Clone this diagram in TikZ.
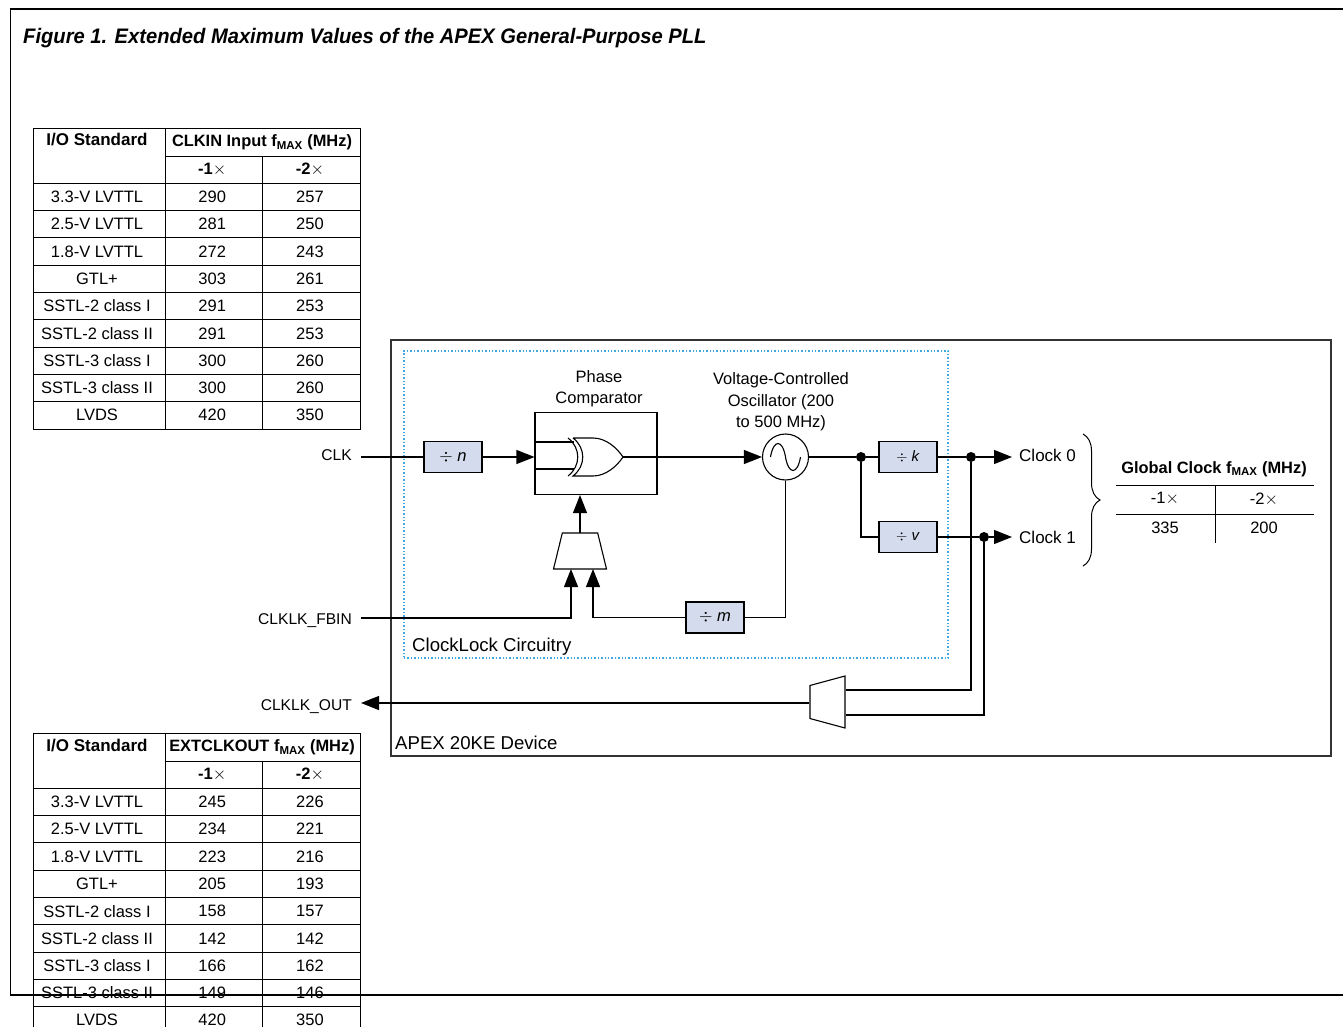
\documentclass[tikz,border=0pt]{standalone}
\usepackage{fontspec}
\setmainfont{Liberation Sans}
\newfontfamily\titlefont[FakeStretch=0.96]{Liberation Sans}
\usepackage{tikz}
\usetikzlibrary{arrows.meta,positioning,calc,decorations.pathreplacing,shapes.geometric}

\definecolor{divfill}{RGB}{211,219,236}
\definecolor{dotblue}{RGB}{60,170,225}

% one fmax table: name prefix, top edge, heading, rows
\newcommand{\fmaxtable}[4]{
    \node[cell, minimum width=132pt, minimum height=55pt] (#1std) at (99.5,#2+27.5) {};
    \node[tabhead, anchor=base, font=\fontsize{17}{20}\selectfont\bfseries] (#1stdt) at (97,#2+18) {I/O Standard};
    \node[cell, minimum width=194.5pt, minimum height=28pt] (#1head) at (262.75,#2+14) {};
    \node[tabhead, anchor=base] (#1headt) at (262,#2+18.5) {#3 f\textsubscript{MAX} (MHz)};
    \node[cell, minimum width=96.5pt, minimum height=27pt] (#1one) at (213.75,#2+41.5) {\textbf{-1}$\times$\hspace*{3pt}};
    \node[cell, minimum width=98pt, minimum height=27pt] (#1two) at (311,#2+41.5) {\textbf{-2}$\times$\hspace*{2pt}};
    \foreach \std/\va/\vb [count=\i] in {#4} {
        \node[cell, minimum width=132pt] (#1a\i) at (99.5,#2+41.6+27.3*\i) {\std\hspace*{5pt}};
        \node[cell, minimum width=96.5pt] (#1b\i) at (213.75,#2+41.6+27.3*\i) {\va\hspace*{3pt}};
        \node[cell, minimum width=98pt] (#1c\i) at (311,#2+41.6+27.3*\i) {\vb\hspace*{2pt}};
    }
}

\begin{document}
\begin{tikzpicture}[
            x=1pt, y=-1pt,
            every node/.style={font=\fontsize{16.5}{20}\selectfont},
            cell/.style={draw, line width=0.9pt, rectangle, inner sep=0pt, minimum height=27.3pt, align=center},
            tabhead/.style={inner sep=0pt, font=\fontsize{16.4}{20}\selectfont\bfseries},
            divbox/.style={draw, line width=1.1pt, fill=divfill, rectangle, inner sep=0pt, minimum width=58pt, minimum height=31pt},
            label/.style={inner sep=0pt, align=center},
            portname/.style={label, anchor=base east, font=\fontsize{15.6}{20}\selectfont},
            framelabel/.style={label, anchor=base west, font=\fontsize{18.6}{20}\selectfont},
            wire/.style={line width=1.1pt},
            flow/.style={wire, -{Triangle[length=18pt,width=14pt]}},
            joint/.style={circle, fill=black, inner sep=0pt, minimum size=10pt}
        ]
            \useasboundingbox (0,0) rectangle (1343,1027);

            \node[anchor=base west, inner sep=0pt, font=\fontsize{21}{24}\selectfont\titlefont\bfseries\itshape] (title) at (23,44) {Figure 1. Extended Maximum Values of the APEX General-Purpose PLL};

            % tables
            \fmaxtable{in}{128}{CLKIN Input}{3.3-V LVTTL/290/257, 2.5-V LVTTL/281/250, 1.8-V LVTTL/272/243, GTL+/303/261, SSTL-2 class I/291/253, SSTL-2 class II/291/253, SSTL-3 class I/300/260, SSTL-3 class II/300/260, LVDS/420/350}
            \fmaxtable{out}{733}{EXTCLKOUT}{3.3-V LVTTL/245/226, 2.5-V LVTTL/234/221, 1.8-V LVTTL/223/216, GTL+/205/193, SSTL-2 class I/158/157, SSTL-2 class II/142/142, SSTL-3 class I/166/162, SSTL-3 class II/149/146, LVDS/420/350}

            % page frame
            \coordinate (ftl) at (10.5,9);
            \coordinate (ftr) at (1343,9);
            \coordinate (fbl) at (10.5,995);
            \coordinate (fbr) at (1343,995);
            \draw[line width=1.1pt] (ftr) -- (ftl) -- (fbl) -- (fbr);

            % device and circuitry frames
            \node[draw=black!80, line width=1.1pt, minimum width=940pt, minimum height=416pt, inner sep=0pt] (device) at (861,548) {};
            \node[framelabel] (devlabel) at (395,749) {APEX 20KE Device};
            \node[draw=dotblue, line width=1.2pt, dash pattern=on 1.4pt off 2pt, minimum width=544pt, minimum height=307pt, inner sep=0pt] (lock) at (676,504.5) {};
            \node[framelabel] (locklabel) at (412,651) {ClockLock Circuitry};

            % blocks
            \node[divbox] (divn) at (453,457) {$\div$ \textit{n}};
            \node[divbox] (divk) at (908,457) {\fontsize{15}{18}\selectfont$\div$ \textit{k}};
            \node[divbox] (divv) at (908,537) {\fontsize{15}{18}\selectfont$\div$ \textit{v}};
            \node[divbox] (divm) at (715,617.5) {$\div$ \textit{m}};
            \node[draw, line width=1.1pt, minimum width=122pt, minimum height=82pt, inner sep=0pt] (comp) at (596,453.5) {};
            \node[draw, fill=white, circle, line width=1.1pt, minimum size=46pt, inner sep=0pt] (vco) at (785.5,457) {};
            \draw[line width=1.1pt, shift={(vco.center)}] (-15,0) .. controls (-12,-18) and (-3,-18) .. (0,0) .. controls (3,18) and (12,18) .. (15,0);
            \node[draw, trapezium, trapezium left angle=76, trapezium right angle=76, trapezium stretches=true, line width=1.1pt, minimum width=53pt, minimum height=36pt, inner sep=0.5pt] (mux) at (580,551) {};
            \node[draw, trapezium, shape border rotate=90, trapezium left angle=74, trapezium right angle=74, trapezium stretches=true, line width=1.1pt, minimum width=52pt, minimum height=35pt, inner sep=0.5pt] (outmux) at (827.5,702) {};

            % xor gate of the comparator
            \coordinate (xorin1) at (574,442);
            \coordinate (xorin2) at (574,469);
            \coordinate (xortip) at (623,457);
            \draw[line width=1.1pt] (573,438) -- (593,438) .. controls (606,438) and (617,448) .. (xortip) .. controls (617,466) and (606,476) .. (593,476) -- (573,476) .. controls (586,466) and (586,448) .. (573,438);
            \draw[line width=1.1pt] (568,438) .. controls (581,448) and (581,466) .. (568,476);

            % labels
            \node[label] (lblcomp) at (599,389) {Phase\\[1.2pt]Comparator};
            \node[label] (lblvco) at (781,402) {Voltage-Controlled\\[2pt]Oscillator (200\\[1pt]to 500 MHz)};
            \node[portname] (clk) at (352,460) {CLK};
            \node[portname] (fbin) at (352,624) {CLKLK\_FBIN};
            \node[portname] (clkout) at (352,710) {CLKLK\_OUT};
            \node[label, anchor=base west, font=\fontsize{17}{20}\selectfont] (clock0) at (1019,461) {Clock 0};
            \node[label, anchor=base west, font=\fontsize{17}{20}\selectfont] (clock1) at (1019,543) {Clock 1};

            % joints
            \node[joint] (j1) at (861,457) {};
            \node[joint] (j2) at (971,457) {};
            \node[joint] (j3) at (984,537) {};

            % free ends of the wires
            \coordinate (clkend) at (361,457);
            \coordinate (fbinend) at (361,618);
            \coordinate (outend) at (361,703);
            \coordinate (clk0end) at (1012,457);
            \coordinate (clk1end) at (1012,537);

            % wires
            \draw[wire] (clkend) -- (divn);
            \draw[flow] (divn) -- (comp.west |- divn);
            \draw[wire] (comp.west |- xorin1) -- (xorin1);
            \draw[wire] (comp.west |- xorin2) -- (xorin2);
            \draw[flow] (xortip) -- (vco);
            \draw[wire] (vco) -- (j1);
            \draw[wire] (j1) -- (divk);
            \draw[wire] (j1) |- (divv);
            \draw[wire] (divk) -- (j2);
            \draw[flow] (j2) -- (clk0end);
            \draw[wire] (divv) -- (j3);
            \draw[flow] (j3) -- (clk1end);
            \draw[flow] (580,533) -- (comp.south -| 580,0);
            \draw[flow] (fbinend) -| (571,569);
            \draw[flow] (divm) -| (593,569);
            \draw[wire] (vco) |- (divm);
            \draw[wire] (j2) |- (846,690);
            \draw[wire] (j3) |- (846,715);
            \draw[flow] (outmux.west |- outend) -- (outend);

            % global clock table
            \draw[decorate, decoration={brace, amplitude=17pt}, line width=1pt] (1083,434) -- (1083,566) node[midway] (gcbrace) {};
            \node[tabhead, anchor=base] (gchead) at (1214,473) {Global Clock f\textsubscript{MAX} (MHz)};
            \coordinate (gcl1) at (1116,485);
            \coordinate (gcr1) at (1314,485);
            \coordinate (gcl2) at (1116,514);
            \coordinate (gcr2) at (1314,514);
            \coordinate (gct) at (1215,485);
            \coordinate (gcb) at (1215,543);
            \draw[line width=0.9pt] (gcl1) -- (gcr1);
            \draw[line width=0.9pt] (gcl2) -- (gcr2);
            \draw[line width=0.9pt] (gct) -- (gcb);
            \node[label] (gcone) at (1165,499) {-1$\times$};
            \node[label] (gctwo) at (1264,499) {-2$\times$};
            \node[label] (gcva) at (1165,528) {335};
            \node[label] (gcvb) at (1264,528) {200};
        \end{tikzpicture}
\end{document}
